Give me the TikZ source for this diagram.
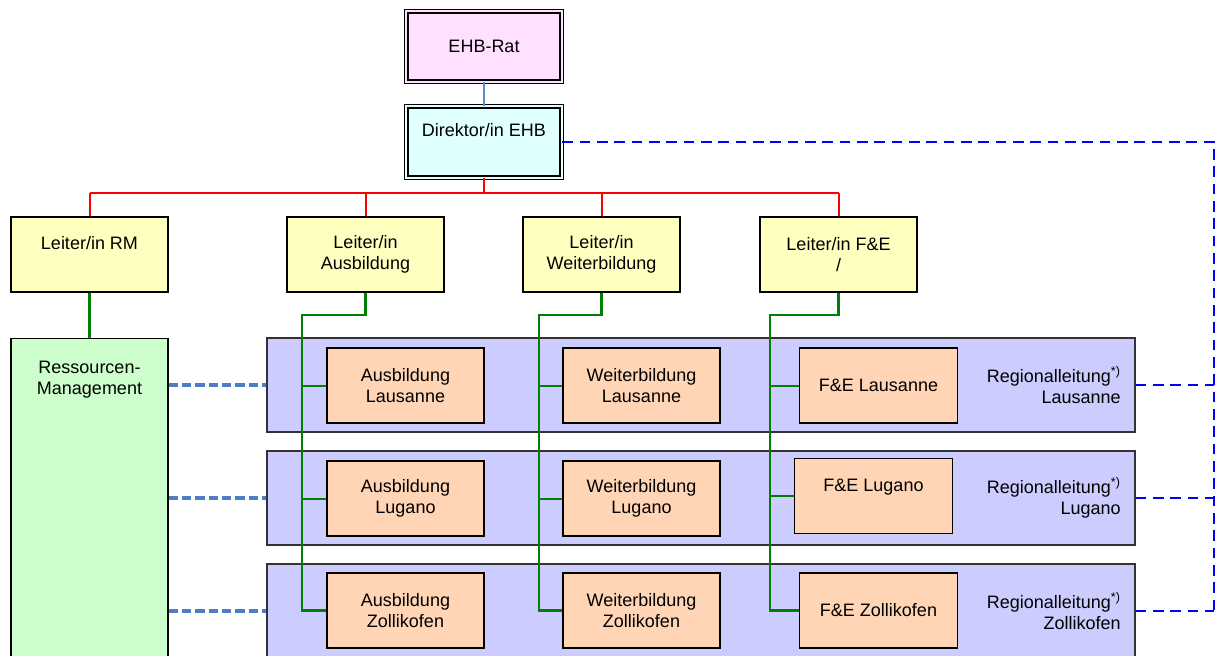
\documentclass[tikz,border=0pt]{standalone}
\usepackage{fontspec}
\setmainfont{Liberation Sans}
\usetikzlibrary{positioning}

\definecolor{ratpink}{RGB}{255,224,255}
\definecolor{dircyan}{RGB}{224,255,255}
\definecolor{leiteryellow}{RGB}{255,255,192}
\definecolor{rmgreen}{RGB}{204,255,204}
\definecolor{bandblue}{RGB}{204,204,255}
\definecolor{unitpeach}{RGB}{255,213,181}
\definecolor{linkblue}{RGB}{79,126,196}
\definecolor{stemblue}{RGB}{91,139,208}
\definecolor{orggreen}{RGB}{0,128,0}

\tikzset{
  orgtext/.style={font=\fontsize{13.5}{15.75}\selectfont, align=center, inner sep=0pt},
  orgbox/.style={draw, line width=0.8pt, orgtext, minimum width=117.75pt, minimum height=56.25pt},
  topbox/.style={orgbox, line width=1pt, double, double distance=1.5pt, minimum width=116.5pt},
  ratbox/.style={topbox, fill=ratpink, double=ratpink, minimum height=52.75pt},
  dirbox/.style={topbox, fill=dircyan, double=dircyan, minimum height=53.5pt},
  leiterbox/.style={orgbox, fill=leiteryellow},
  rmbox/.style={orgbox, fill=rmgreen, minimum height=250pt},
  bandbox/.style={draw=black!80, line width=0.8pt, fill=bandblue, minimum width=651pt, minimum height=70.5pt},
  unitbox/.style={orgbox, fill=unitpeach},
  redline/.style={draw=red, line width=1.5pt},
  stemline/.style={draw=stemblue, line width=1.3pt},
  orgline/.style={draw=orggreen, line width=1.6pt},
  orgbranch/.style={draw=orggreen, line width=1.5pt},
  rmlink/.style={draw=linkblue, line width=3.4pt, dash pattern=on 7pt off 3pt},
  rllink/.style={draw=blue, line width=1.8pt, dash pattern=on 8pt off 5pt}
}

\begin{document}
\begin{tikzpicture}[x=0.75pt, y=-0.75pt]
  \useasboundingbox (0,0) rectangle (1216,656);
  \clip (0,0) rectangle (1216,656);

  \node[ratbox] (rat) at (484,46.5) {EHB-Rat};
  \node[dirbox] (dir) at (484,142) {};
  \node[orgtext, anchor=north] (dirtext) at (484,123.5) {Direktor/in EHB};
  \draw[stemline] (rat.south) -- (dir.north);

  \node[leiterbox] (lrm) at (89.5,254.5) {};
  \node[orgtext, anchor=north] (lrmtext) at (89.5,236.5) {Leiter/in RM};
  \node[leiterbox] (laus) at (365.5,254.5) {Leiter/in\\Ausbildung};
  \node[leiterbox] (lweit) at (601.5,254.5) {Leiter/in\\Weiterbildung};
  \node[leiterbox] (lfe) at (838.5,254.5) {Leiter/in F\&E\\/};

  \coordinate (redbar) at (484,193);
  \draw[redline] (dir.south) -- (redbar);
  \draw[redline] (redbar -| lrm.north) -- (redbar -| lfe.north);
  \foreach \b in {lrm,laus,lweit,lfe}
    \draw[redline] (redbar -| \b.north) -- (\b.north);

  \node[rmbox, anchor=north] (rm) at (89.5,338) {};
  \node[orgtext, anchor=north] (rmtext) at (89.5,360.5) {Ressourcen-\\Management};
  \draw[orgline] (lrm.south) -- (rm.north);

  \coordinate (rlbus) at (1214,142);
  \foreach \y/\ort/\n in {385/Lausanne/1, 498/Lugano/2, 611/Zollikofen/3} {
    \node[bandbox] (band\n) at (701,\y) {};
    \node[orgtext, align=right, anchor=east] (rl\n) at (1121,\y) {Regionalleitung\textsuperscript{*)}\\\ort};
    \draw[rmlink] (rm.east |- band\n.west) -- (band\n.west);
    \draw[rllink] (band\n.east) -- (rlbus |- band\n.east);
  }
  \draw[rllink] (dir.east) -| (rlbus |- band3.east);

  \node[unitbox] (ausLau) at (405.5,385.5) {Ausbildung\\Lausanne};
  \node[unitbox] (weiLau) at (641.5,385.5) {Weiterbildung\\Lausanne};
  \node[unitbox, minimum width=119pt] (feLau) at (878.5,385.5) {F\&E Lausanne};

  \node[unitbox] (ausLug) at (405.5,498.5) {Ausbildung\\Lugano};
  \node[unitbox] (weiLug) at (641.5,498.5) {Weiterbildung\\Lugano};
  \node[unitbox, minimum width=119pt] (feLug) at (873.5,496) {};
  \node[orgtext, anchor=north] (feLugtext) at (873.5,478.5) {F\&E Lugano};

  \node[unitbox] (ausZol) at (405.5,610.5) {Ausbildung\\Zollikofen};
  \node[unitbox] (weiZol) at (641.5,610.5) {Weiterbildung\\Zollikofen};
  \node[unitbox, minimum width=119pt] (feZol) at (878.5,610.5) {F\&E Zollikofen};

  \coordinate (ausbus) at (302,315);
  \coordinate (weibus) at (539,315);
  \coordinate (febus) at (770,315);
  \draw[orgline] (laus.south) |- (ausbus) |- (ausZol.west);
  \draw[orgline] (lweit.south) |- (weibus) |- (weiZol.west);
  \draw[orgline] (lfe.south) |- (febus) |- (feZol.west);
  \draw[orgbranch] (ausbus |- ausLau.west) -- (ausLau.west);
  \draw[orgbranch] (ausbus |- ausLug.west) -- (ausLug.west);
  \draw[orgbranch] (weibus |- weiLau.west) -- (weiLau.west);
  \draw[orgbranch] (weibus |- weiLug.west) -- (weiLug.west);
  \draw[orgbranch] (febus |- feLau.west) -- (feLau.west);
  \draw[orgbranch] (febus |- feLug.west) -- (feLug.west);
\end{tikzpicture}
\end{document}
